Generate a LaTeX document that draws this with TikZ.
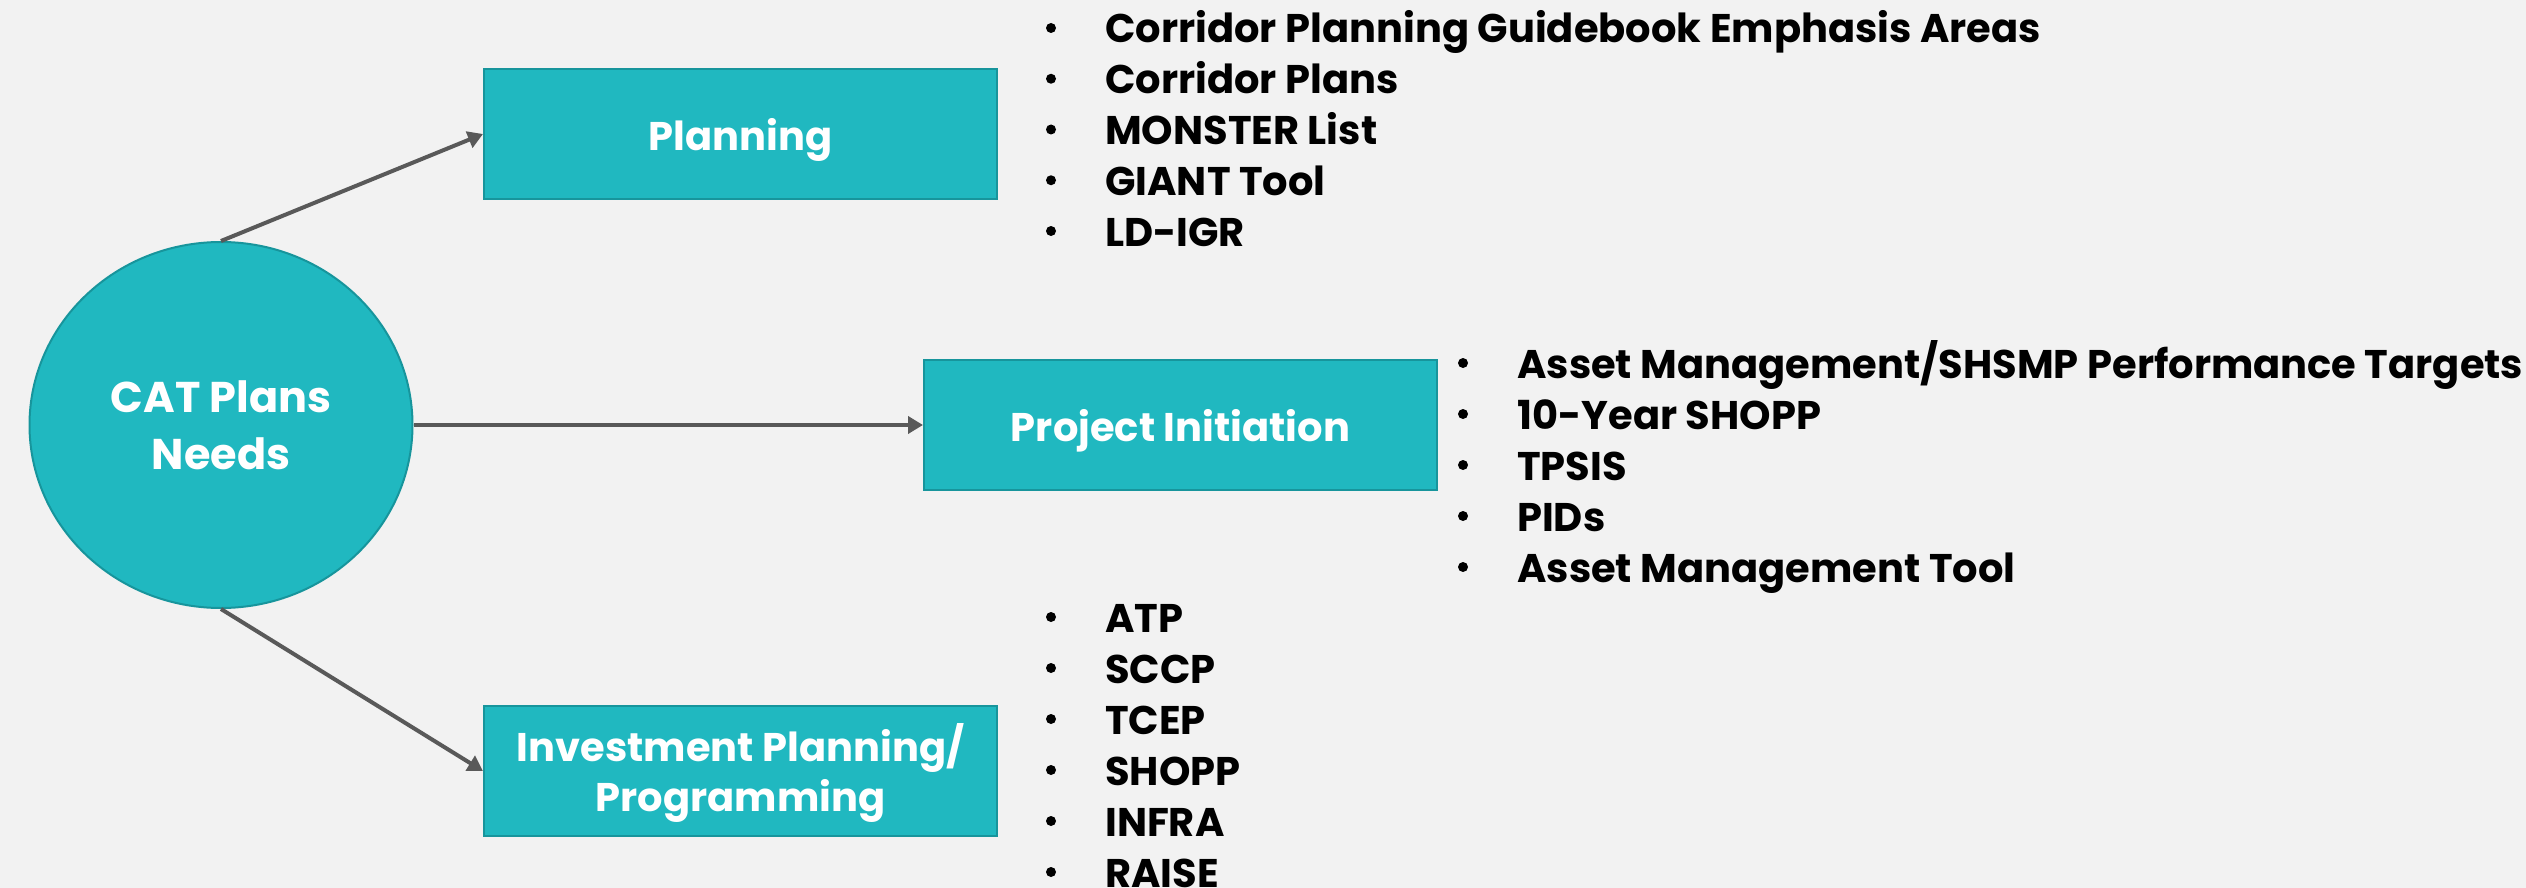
\documentclass[tikz,border=0pt]{standalone}
\usepackage{fontspec}
\setmainfont{Poppins}
\usetikzlibrary{arrows.meta,shapes.geometric}
\definecolor{bg}{HTML}{F2F2F2}
\definecolor{teal}{HTML}{20B8C0}
\definecolor{tealdark}{HTML}{17959C}
\definecolor{arrowgray}{HTML}{595959}
\tikzset{
  box/.style={draw=tealdark, line width=2pt, fill=teal, minimum width=513pt, minimum height=130pt, inner sep=0pt, text=white, font=\fontsize{40}{50}\selectfont\bfseries, align=center},
  oval/.style={ellipse, draw=tealdark, line width=2pt, fill=teal, minimum width=383pt, minimum height=366pt, inner sep=0pt, text=white, font=\fontsize{43}{57}\selectfont\bfseries, align=center},
  conn/.style={draw=arrowgray, line width=4pt, -{Triangle[length=15pt,width=17pt]}},
  item/.style={anchor=base west, inner sep=0pt, font=\fontsize{40}{50}\selectfont\bfseries},
  dot/.style={circle, fill=black, inner sep=0pt, minimum size=10pt}
}
\begin{document}
\begin{tikzpicture}[x=1pt,y=-1pt]
\fill[bg] (0,0) rectangle (2526,888);
\useasboundingbox (0,0) rectangle (2526,888);
\node[oval] (cat) at (221,425) {CAT Plans\\Needs};
\node[box, text height=40pt, text depth=8pt] (plan) at (740.5,134) {Planning};
\node[box, text height=40pt, text depth=8pt] (proj) at (1180.5,425) {Project Initiation};
\node[box, text height=88pt, text depth=8pt] (inv) at (740.5,771) {Investment Planning/\\Programming};
\draw[conn] (cat.north) -- (plan.west);
\draw[conn] (cat.east) -- (proj.west);
\draw[conn] (cat.south) -- (inv.west);
% Planning list
\foreach \t [count=\i] in {Corridor Planning Guidebook Emphasis Areas, Corridor Plans, MONSTER List, GIANT Tool, LD-IGR}{
  \node[item] (p\i) at (1105,{43+50.75*(\i-1)}) {\t};
  \node[dot] (pd\i) at (1051,{43+50.75*(\i-1)-15}) {};
}
% Project list
\foreach \t [count=\i] in {Asset Management/SHSMP Performance Targets, 10-Year SHOPP, TPSIS, PIDs, Asset Management Tool}{
  \node[item] (r\i) at (1517,{378+51*(\i-1)}) {\t};
  \node[dot] (rd\i) at (1463,{378+51*(\i-1)-15}) {};
}
% Investment list
\foreach \t [count=\i] in {ATP, SCCP, TCEP, SHOPP, INFRA, RAISE}{
  \node[item] (v\i) at (1105,{632+51*(\i-1)}) {\t};
  \node[dot] (vd\i) at (1051,{632+51*(\i-1)-15}) {};
}
\end{tikzpicture}
\end{document}
